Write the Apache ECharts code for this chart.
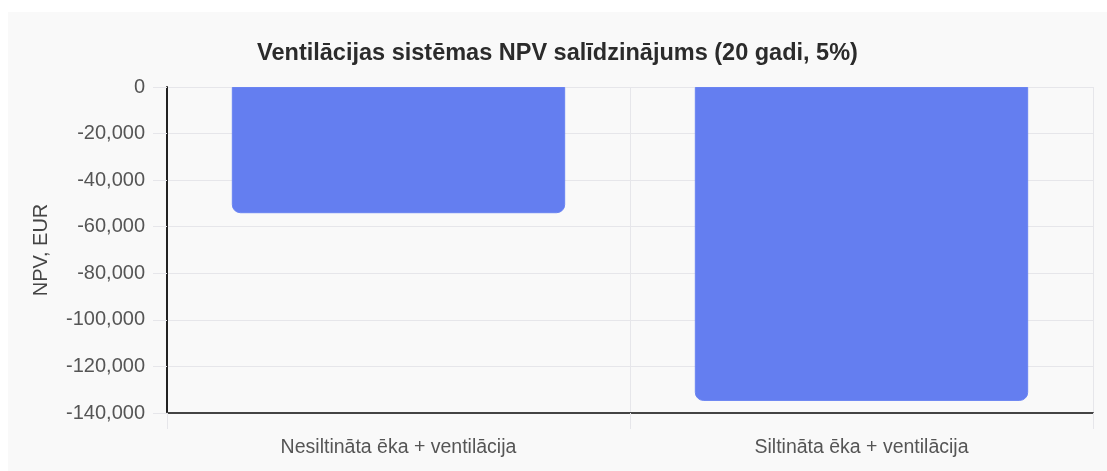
<!DOCTYPE html>
<html>
<head>
<meta charset="utf-8">
<script src="https://cdn.jsdelivr.net/npm/echarts@6/dist/echarts.min.js"></script>
<style>
  html, body { margin: 0; padding: 0; background: #ffffff; }
  #wrap { position: absolute; left: 8px; top: 12px; width: 1099px; height: 459px; background: #f9f9f9; }
  #main { width: 1099px; height: 459px; }
</style>
</head>
<body>
<div id="wrap"><div id="main"></div></div>
<script>
// kategorijas un NPV vērtības (EUR)
var categories = ['Nesiltināta ēka + ventilācija', 'Siltināta ēka + ventilācija'];
var npvValues = [-54200, -134800];
var titleText = 'Ventilācijas sistēmas NPV salīdzinājums (20 gadi, 5%)';
var yAxisName = 'NPV, EUR';

var chart = echarts.init(document.getElementById('main'));

var option = {
    animation: false,
    backgroundColor: 'transparent',
    textStyle: { fontFamily: 'Liberation Sans, Arial, sans-serif' },
    title: {
        text: titleText,
        left: 'center',
        top: 25,
        textStyle: { fontSize: 23.5, fontWeight: 'bold', color: '#2b2b2b' }
    },
    grid: {
        left: 159,
        right: 14,
        top: 75,
        height: 326,
        show: true,
        borderWidth: 0
    },
    xAxis: {
        type: 'category',
        data: categories,
        position: 'bottom',
        axisLine: { show: true, onZero: false, lineStyle: { color: '#444', width: 2 } },
        axisTick: { show: true, length: 16, alignWithLabel: false, lineStyle: { color: '#e6e6ea' } },
        axisLabel: { color: '#555', fontSize: 19.5, margin: 25 },
        splitLine: { show: true, lineStyle: { color: '#e6e6ea' } }
    },
    yAxis: {
        type: 'value',
        min: -140000,
        max: 0,
        interval: 20000,
        name: yAxisName,
        nameLocation: 'middle',
        nameGap: 116,
        nameTextStyle: { color: '#444', fontSize: 20 },
        axisLine: { show: true, lineStyle: { color: '#222', width: 2 } },
        axisTick: { show: true, length: 14, lineStyle: { color: '#e6e6ea' } },
        axisLabel: {
            color: '#555',
            fontSize: 20,
            margin: 22,
            formatter: function (v) { return v.toLocaleString('en-US'); }
        },
        splitLine: { show: true, lineStyle: { color: '#e6e6ea' } }
    },
    series: [{
        type: 'bar',
        data: npvValues,
        barWidth: '72%',
        itemStyle: {
            color: '#647ef0',
            borderColor: '#6a84f2',
            borderWidth: 1,
            borderRadius: [0, 0, 8, 8]
        }
    }]
};

chart.setOption(option);
</script>
</body>
</html>
